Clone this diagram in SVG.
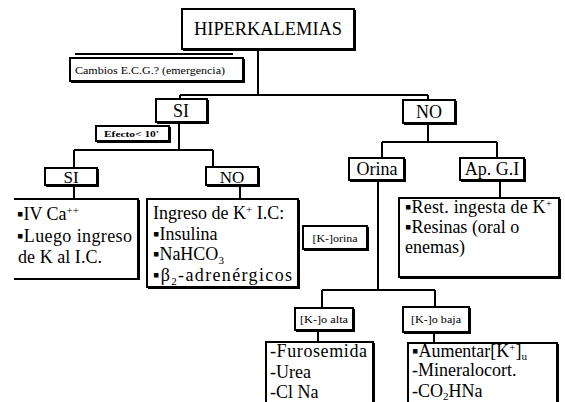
<svg xmlns="http://www.w3.org/2000/svg" width="565" height="402" viewBox="0 0 565 402" font-family="'Liberation Serif', Tinos, 'DejaVu Serif', 'Times New Roman', serif">
<style>
  .box{fill:#fff;stroke:#000;stroke-width:2}
  .sh{fill:none;stroke:#000;stroke-width:2}
  .con{fill:none;stroke:#000;stroke-width:2}
  .t{font-family:'Liberation Serif', Tinos, 'DejaVu Serif', 'Times New Roman', serif;fill:#000}
  .big{font-size:18px}
  .mid{font-size:17px}
  .sm{font-size:10px}
  .c{text-anchor:middle}
  .sup{font-size:11px}
</style>
<rect width="565" height="402" fill="#fff"/>
<g id="connectors">
  <path class="con" d="M258 49V95M180 95H428M180 95V99M428 95V100"/>
  <path class="con" d="M179 122V150M74 150H213M74 150V168M213 150V167"/>
  <path class="con" d="M74 185V199M240 185V199"/>
  <path class="con" d="M428 123V142M382 142H497M382 142V158M497 142V158"/>
  <path class="con" d="M500 180V198"/>
  <path class="con" d="M378 180V290M322 290H435M322 290V308M435 290V307"/>
  <path class="con" d="M318 330V342M434 332V343"/>
</g>
<g id="hiperkalemias">
  <rect class="box" x="182" y="9" width="172" height="40"/>
  <path class="sh" d="M355 10V50H183"/>
  <text class="t big c" x="268" y="35" textLength="148" lengthAdjust="spacingAndGlyphs">HIPERKALEMIAS</text>
</g>
<g id="cambios">
  <line class="con" x1="75" y1="54" x2="233" y2="54"/>
  <rect class="box" x="70" y="58" width="173" height="23"/>
  <path class="sh" d="M244 59V82H71"/>
  <text class="t" x="75" y="74" font-size="11" textLength="150" lengthAdjust="spacingAndGlyphs">Cambios E.C.G.? (emergencia)</text>
</g>
<g id="si1">
  <rect class="box" x="156" y="99" width="51" height="23"/>
  <path class="sh" d="M208 100V123H157"/>
  <text class="t big c" x="181" y="117">SI</text>
</g>
<g id="no1">
  <rect class="box" x="403" y="100" width="52" height="23"/>
  <path class="sh" d="M456 101V124H404"/>
  <text class="t big c" x="429" y="118">NO</text>
</g>
<g id="efecto">
  <rect class="box" x="96" y="126" width="73" height="15"/>
  <path class="sh" d="M170 127V142H97"/>
  <text class="t" x="104" y="137" font-size="9" font-weight="bold" textLength="55" lengthAdjust="spacingAndGlyphs">Efecto&lt; 10'</text>
</g>
<g id="si2">
  <rect class="box" x="45" y="168" width="52" height="17"/>
  <path class="sh" d="M98 169V186H46"/>
  <text class="t mid c" x="71" y="183">SI</text>
</g>
<g id="no2">
  <rect class="box" x="206" y="167" width="52" height="18"/>
  <path class="sh" d="M259 168V186H207"/>
  <text class="t mid c" x="232" y="183">NO</text>
</g>
<g id="si-tratamiento">
  <path class="con" d="M14 199H138V279H14"/>
  <path class="sh" d="M139 200V280"/>
  <text class="t big" x="17" y="220">▪IV Ca<tspan class="sup" dy="-6">++</tspan></text>
  <text class="t big" x="17" y="242" textLength="115" lengthAdjust="spacing">▪Luego ingreso</text>
  <text class="t big" x="18" y="263" textLength="84" lengthAdjust="spacing">de K al I.C.</text>
</g>
<g id="no-tratamiento">
  <rect class="box" x="147" y="199" width="151" height="88"/>
  <path class="sh" d="M299 200V288H148"/>
  <text class="t big" x="153" y="219">Ingreso de K<tspan class="sup" dy="-6">+</tspan><tspan dy="6"> I.C:</tspan></text>
  <text class="t big" x="153" y="240">▪Insulina</text>
  <text class="t big" x="153" y="260">▪NaHCO<tspan class="sup" dy="4">3</tspan></text>
  <text class="t big" x="153" y="281" textLength="139" lengthAdjust="spacing">▪β<tspan class="sup" dy="4">2</tspan><tspan dy="-4">-adrenérgicos</tspan></text>
</g>
<g id="orina">
  <rect class="box" x="349" y="158" width="55" height="22"/>
  <path class="sh" d="M405 159V181H350"/>
  <text class="t big c" x="377" y="175">Orina</text>
</g>
<g id="apgi">
  <rect class="box" x="460" y="158" width="64" height="22"/>
  <path class="sh" d="M525 159V181H461"/>
  <text class="t big c" x="492" y="175">Ap. G.I</text>
</g>
<g id="korina">
  <rect class="box" x="303" y="226" width="64" height="23"/>
  <path class="sh" d="M368 227V250H304"/>
  <text class="t sm c" x="335" y="242" textLength="45" lengthAdjust="spacingAndGlyphs">[K-]orina</text>
</g>
<g id="apgi-tratamiento">
  <rect class="box" x="399" y="198" width="160" height="79"/>
  <path class="sh" d="M560 199V278H400"/>
  <text class="t big" x="405" y="213" textLength="147" lengthAdjust="spacing">▪Rest. ingesta de K<tspan class="sup" dy="-6">+</tspan></text>
  <text class="t big" x="405" y="233">▪Resinas (oral o</text>
  <text class="t big" x="405" y="253">enemas)</text>
</g>
<g id="k-alta">
  <rect class="box" x="295" y="308" width="58" height="22"/>
  <path class="sh" d="M354 309V331H296"/>
  <text class="t sm c" x="324" y="323" textLength="48" lengthAdjust="spacingAndGlyphs">[K-]o alta</text>
</g>
<g id="k-baja">
  <rect class="box" x="403" y="307" width="66" height="25"/>
  <path class="sh" d="M470 308V333H404"/>
  <text class="t sm c" x="436" y="323" textLength="50" lengthAdjust="spacingAndGlyphs">[K-]o baja</text>
</g>
<g id="alta-tratamiento">
  <rect class="box" x="266" y="342" width="107" height="70"/>
  <path class="sh" d="M374 343V412"/>
  <text class="t big" x="270" y="357" textLength="97" lengthAdjust="spacing">-Furosemida</text>
  <text class="t big" x="270" y="378">-Urea</text>
  <text class="t big" x="270" y="398">-Cl Na</text>
</g>
<g id="baja-tratamiento">
  <rect class="box" x="408" y="343" width="149" height="70"/>
  <path class="sh" d="M558 344V413"/>
  <text class="t big" x="412" y="357">▪Aumentar[K<tspan class="sup" dy="-6">+</tspan><tspan dy="6">]</tspan><tspan class="sup" dy="3">u</tspan></text>
  <text class="t big" x="412" y="376">-Mineralocort.</text>
  <text class="t big" x="412" y="397">-CO<tspan class="sup" dy="3">2</tspan><tspan dy="-3">HNa</tspan></text>
</g>
</svg>
